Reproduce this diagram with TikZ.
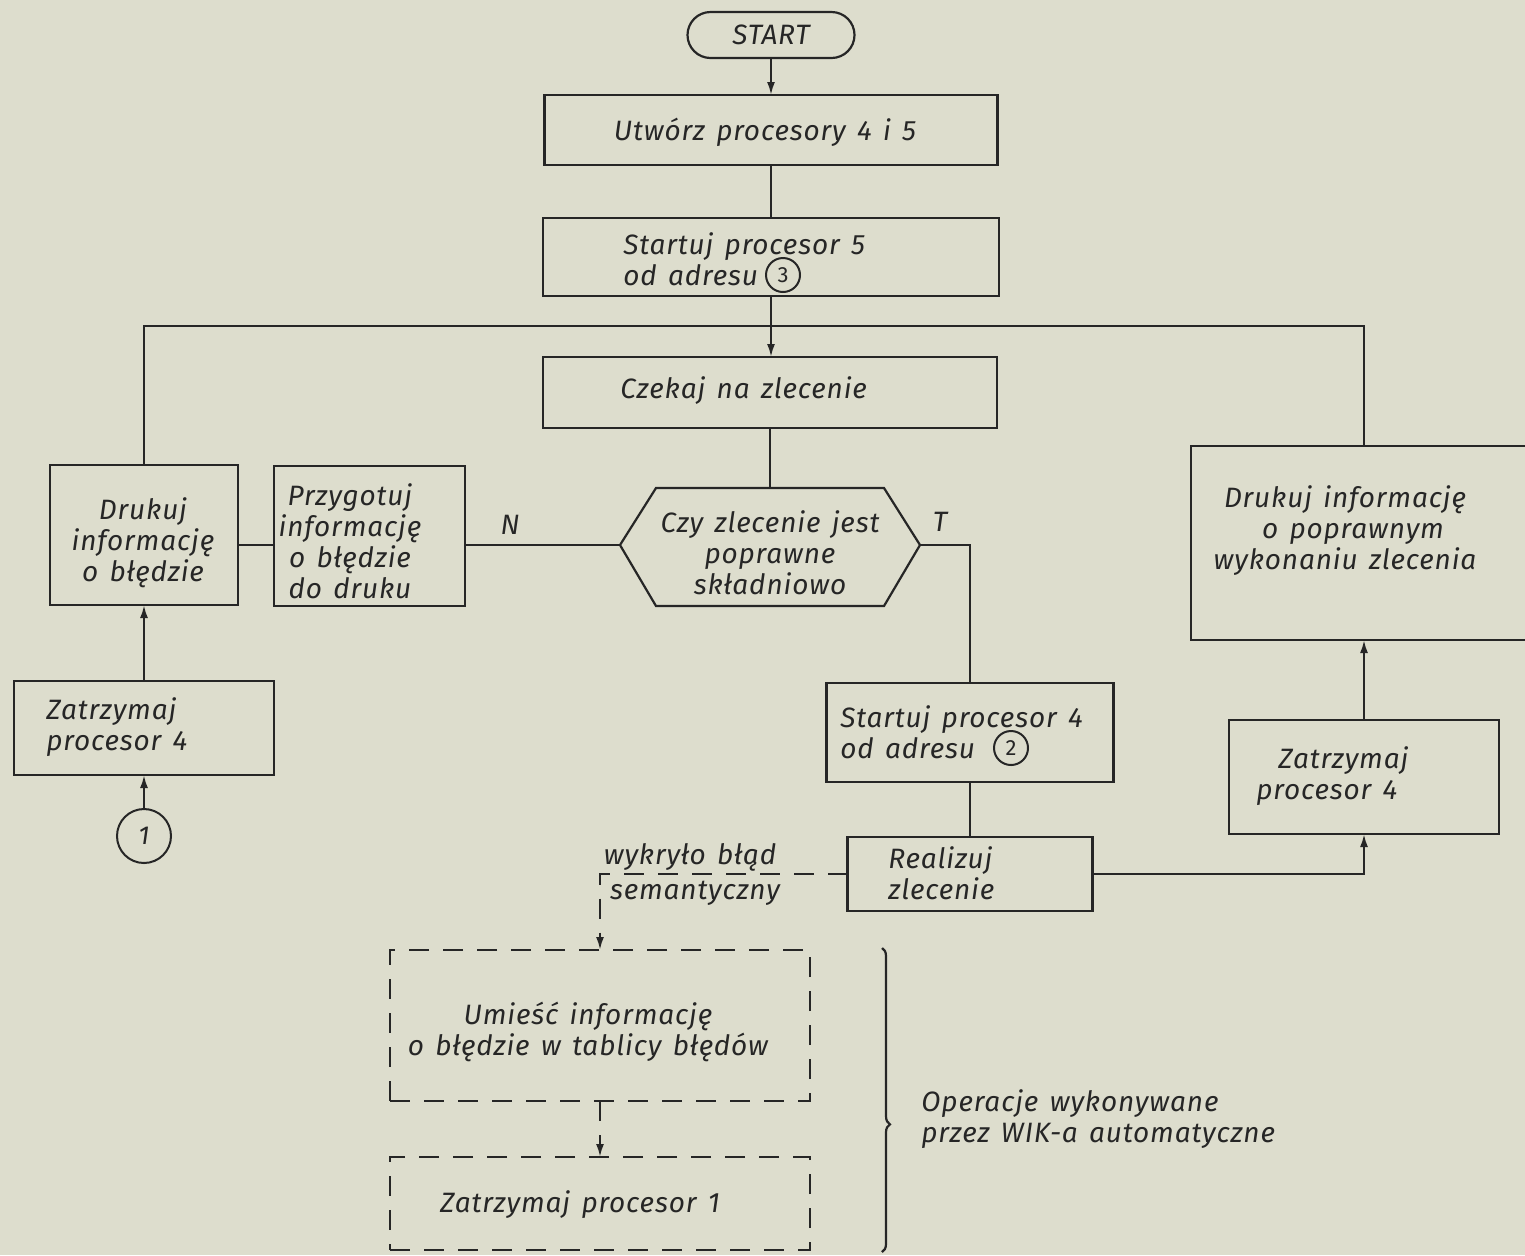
\documentclass[tikz,border=0pt]{standalone}
\usepackage{fontspec}
\setmainfont{Fira Sans}[LetterSpace=3,WordSpace=1.4]
\usetikzlibrary{arrows.meta,decorations.pathreplacing}
\definecolor{paper}{RGB}{221,221,205}
\definecolor{ink}{RGB}{38,38,38}
\begin{document}
\begin{tikzpicture}[x=0.5pt,y=-0.5pt,
  every node/.style={font=\fontsize{14}{15.5}\selectfont\itshape, text=ink},
  box/.style={draw=ink, line width=1.1pt, inner sep=0pt, outer sep=0pt, rectangle},
  dbox/.style={box, dash pattern=on 10pt off 7pt},
  conn/.style={draw=ink, line width=1.1pt},
  dconn/.style={conn, dash pattern=on 10pt off 7pt},
  arr/.style={-{Latex[length=6.5pt,width=4pt]}},
  txt/.style={inner sep=0pt, align=center},
  ltxt/.style={inner sep=0pt, align=left, anchor=west},
  num/.style={draw=ink, circle, line width=1pt, inner sep=0pt, minimum size=17pt, font=\fontsize{11}{12}\selectfont},
]
\fill[paper] (0,0) rectangle (1525,1255);
\useasboundingbox (0,0) rectangle (1525,1255);
\clip (0,0) rectangle (1525,1255);

% main column
\node[box, rounded corners=11.5pt, minimum width=83.5pt, minimum height=23pt] (start) at (771,35) {START};
\node[box, minimum width=226.5pt, minimum height=35pt] (utw) at (771,130) {};
\node[txt] (tutw) at (765,132) {Utwórz procesory 4 i 5};
\node[box, minimum width=228pt, minimum height=39pt] (st5) at (771,257) {};
\node[ltxt] (tst5) at (623,259) {Startuj procesor 5\\od adresu};
\node[num] (c3) at (783,275) {3};
\node[box, minimum width=227pt, minimum height=35.5pt] (cz) at (770,392.5) {};
\node[ltxt] (tcz) at (620,391) {Czekaj na zlecenie};

% decision hexagon
\coordinate (hT) at (770,488);
\coordinate (hL) at (620,545);
\coordinate (hR) at (920,545);
\draw[conn, line join=miter] (656,488) -- (884,488) -- (hR) -- (884,606) -- (656,606) -- (hL) -- cycle;
\node[txt] (thex) at (770,553) {Czy zlecenie jest\\poprawne\\składniowo};
\node[txt] (lN) at (510,525) {N};
\node[txt] (lT) at (940,522) {T};

% left branch
\node[box, minimum width=95.5pt, minimum height=70pt] (prz) at (369.5,536) {};
\node[txt] (tprz) at (350,541) {Przygotuj\\informację\\o błędzie\\do druku};
\node[box, minimum width=94pt, minimum height=70pt] (druk) at (144,535) {};
\node[txt] (tdruk) at (143,543) {Drukuj\\informację\\o błędzie};
\node[box, minimum width=130pt, minimum height=47pt] (zat4L) at (144,728) {};
\node[ltxt] (tzat4L) at (46,727) {Zatrzymaj\\procesor 4};
\node[num, minimum size=27pt, font=\fontsize{13}{14}\selectfont\itshape] (c1) at (144,836) {1};

% right branch
\node[box, minimum width=143.5pt, minimum height=49.5pt] (st4) at (970,732.5) {};
\node[ltxt] (tst4) at (840,732) {Startuj procesor 4\\od adresu};
\node[num] (c2) at (1011,748) {2};
\node[box, minimum width=122.5pt, minimum height=37pt] (real) at (970,874) {};
\node[ltxt] (treal) at (888,873) {Realizuj\\zlecenie};
\node[box, minimum width=173pt, minimum height=97pt] (drukR) at (1364,543) {};
\node[txt] (tdrukR) at (1345,531) {Drukuj informację\\\hspace*{8pt}o poprawnym\\wykonaniu zlecenia};
\node[box, minimum width=135pt, minimum height=57pt] (zat4R) at (1364,777) {};
\node[ltxt] (tzat4R) at (1256,776) {\hspace*{11pt}Zatrzymaj\\procesor 4};

% automatic operations
\node[dbox, minimum width=210pt, minimum height=75.5pt] (ume) at (600,1025.5) {};
\node[txt] (tume) at (588,1032) {Umieść informację\\o błędzie w tablicy błędów};
\node[dbox, minimum width=210pt, minimum height=46.5pt] (zat1) at (600,1203.5) {};
\node[txt] (tzat1) at (580,1205) {Zatrzymaj procesor 1};
\node[txt] (lab1) at (690,857) {wykryło błąd};
\node[txt] (lab2) at (695,893) {semantyczny};
\node[ltxt] (tops) at (921,1119) {Operacje wykonywane\\przez WIK-a automatyczne};

% connectors
\coordinate (loopC) at (771,326);
\draw[conn, arr] (start) -- (utw);
\draw[conn] (utw) -- (st5);
\draw[conn] (st5.south) -- (loopC);
\draw[conn, arr] (loopC) -- (cz.north -| loopC);
\draw[conn] (druk.north) |- (drukR.north |- loopC) -- (drukR.north);
\draw[conn] (cz.south -| hT) -- (hT);
\draw[conn] (hL) -- (hL -| prz.east);
\draw[conn] (prz.west |- hL) -- (druk.east |- hL);
\draw[conn] (hR) -- (hR -| st4.north) -- (st4.north);
\draw[conn] (st4) -- (real);
\draw[conn, arr] (zat4L) -- (druk);
\draw[conn, arr] (c1) -- (zat4L);
\draw[conn, arr] (zat4R) -- (drukR);
\draw[conn, arr] (real.east) -| (zat4R.south);
\draw[dconn, arr] (real.west) -| (ume.north);
\draw[dconn, arr] (ume) -- (zat1);
\draw[conn, decorate, decoration={brace, amplitude=4pt, aspect=0.58}] (882,948) -- (882,1252);
\end{tikzpicture}
\end{document}
